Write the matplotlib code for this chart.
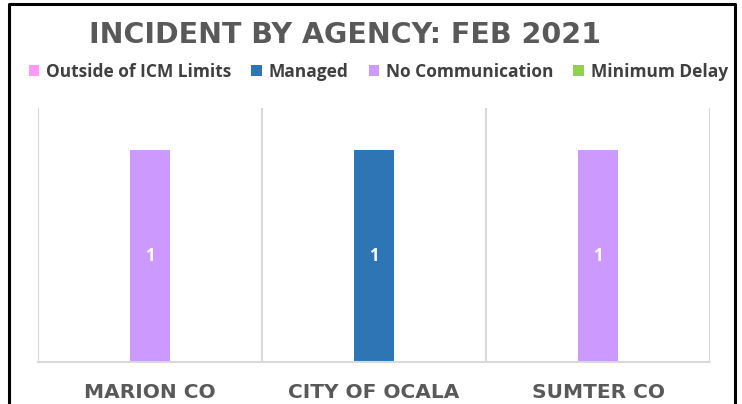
import matplotlib.pyplot as plt
from matplotlib.patches import Patch
from matplotlib.lines import Line2D

# ----------------------------------------------------------------------
# Data
# ----------------------------------------------------------------------
agencies = ["MARION CO", "CITY OF OCALA", "SUMTER CO"]
series = ["Outside of ICM Limits", "Managed", "No Communication", "Minimum Delay"]
outside_icm = [0, 0, 0]
managed = [0, 1, 0]
no_comm = [1, 0, 1]
min_delay = [0, 0, 0]
colors = ["#FF99FF", "#2E75B6", "#CC99FF", "#92D050"]

values = [outside_icm, managed, no_comm, min_delay]

# ----------------------------------------------------------------------
# Plot
# ----------------------------------------------------------------------
plt.rcParams["font.family"] = ["Open Sans", "DejaVu Sans"]
fig = plt.figure(figsize=(7.42, 4.04), dpi=100)
ax = fig.add_axes([0.0512, 0.104, 0.9057, 0.629])

x = list(range(len(agencies)))
bottom = [0] * len(agencies)
for name, vals, c in zip(series, values, colors):
    bars = ax.bar(x, vals, width=0.18, bottom=bottom, color=c, label=name)
    for b, v, y0 in zip(bars, vals, bottom):
        if v:
            ax.text(b.get_x() + b.get_width() / 2, y0 + v / 2, str(v),
                    ha="center", va="center", color="white",
                    fontsize=12, fontweight="bold")
    bottom = [a + v for a, v in zip(bottom, vals)]

ax.set_xlim(-0.5, len(agencies) - 0.5)
ax.set_ylim(0, 1.2)
for gx in [-0.5, 0.5, 1.5, 2.5]:
    ax.axvline(gx, color="#D9D9D9", lw=1.5, zorder=0)

for s in ["top", "right", "left"]:
    ax.spines[s].set_visible(False)
ax.spines["bottom"].set_color("#D9D9D9")
ax.spines["bottom"].set_linewidth(1.5)
ax.set_yticks([])
ax.set_xticks(x)
ax.set_xticklabels(agencies, fontsize=14.5, fontweight="bold", color="#595959",
                   family=["DejaVu Sans"])
ax.tick_params(axis="x", length=0, pad=15)

fig.text(0.465, 0.914, "INCIDENT BY AGENCY: FEB 2021", ha="center", va="center",
         fontsize=20.5, fontweight="bold", color="#595959", family=["DejaVu Sans"])

handles = [Patch(facecolor=c, label=n) for n, c in zip(series, colors)]
fig.legend(handles=handles, loc="center", bbox_to_anchor=(0.510, 0.822), ncol=4,
           frameon=False, handlelength=0.6, handleheight=0.6, handletextpad=0.4,
           columnspacing=1.15, prop={"size": 12.5, "weight": "bold"},
           labelcolor="#404040")

# black frame round the chart (no bottom edge visible)
fig.add_artist(Line2D([0.012, 0.012, 0.991, 0.991], [0.0, 0.99, 0.99, 0.0],
                      transform=fig.transFigure, color="black", lw=2.2))

fig.savefig("out.png", dpi=100)
